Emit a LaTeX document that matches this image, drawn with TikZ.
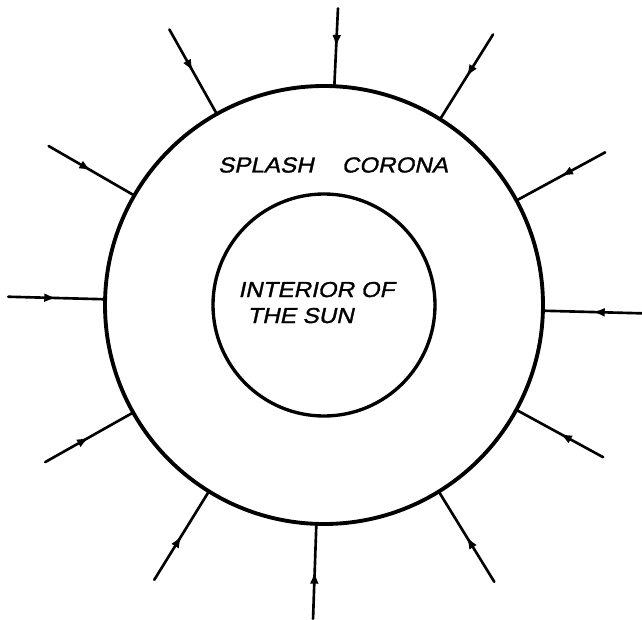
\documentclass[tikz,border=0pt]{standalone}
\usepackage{fontspec}
\newfontfamily\letterfont[FakeSlant=0.22,FakeStretch=1.12,FakeBold=1.3]{Liberation Sans}
\usetikzlibrary{arrows.meta,decorations.markings}

\begin{document}
\begin{tikzpicture}[x=0.02cm,y=0.02cm,line cap=round,line join=round,
    every node/.style={inner sep=0pt,font=\letterfont\fontsize{12.3}{14}\selectfont},
    ray/.style={line width=1.5pt,postaction={decorate},
      decoration={markings,mark=at position 0.5 with {\arrow{Latex[length=7pt,width=5pt]}}}}]
  \useasboundingbox (-324,-314) rectangle (318,305);
  \def\ro{219}
  \def\ri{111}
  \draw[line width=2.2pt] (0,0) circle[radius=\ro];
  \draw[line width=1.9pt] (0,0) circle[radius=\ri];
  % rays falling in on the corona
  \foreach \a/\r [count=\i] in {87.3/297,58/319,28.5/320,358.5/318,331.4/318,301.6/325,
                                 268/314,238.3/323,209.4/320,178.5/316,150/318,119.3/316} {
    \coordinate (out\i) at (\a:\r);
    \coordinate (in\i) at (\a:\ro);
    \draw[ray] (out\i) -- (in\i);
  }
  \node (corona) at (9,140) {SPLASH\hspace{1.3em}CORONA};
  \node[anchor=base west] (interior) at (-86,8) {INTERIOR OF};
  \node[anchor=base west] (sun) at (-77,-18) {THE SUN};
\end{tikzpicture}
\end{document}
